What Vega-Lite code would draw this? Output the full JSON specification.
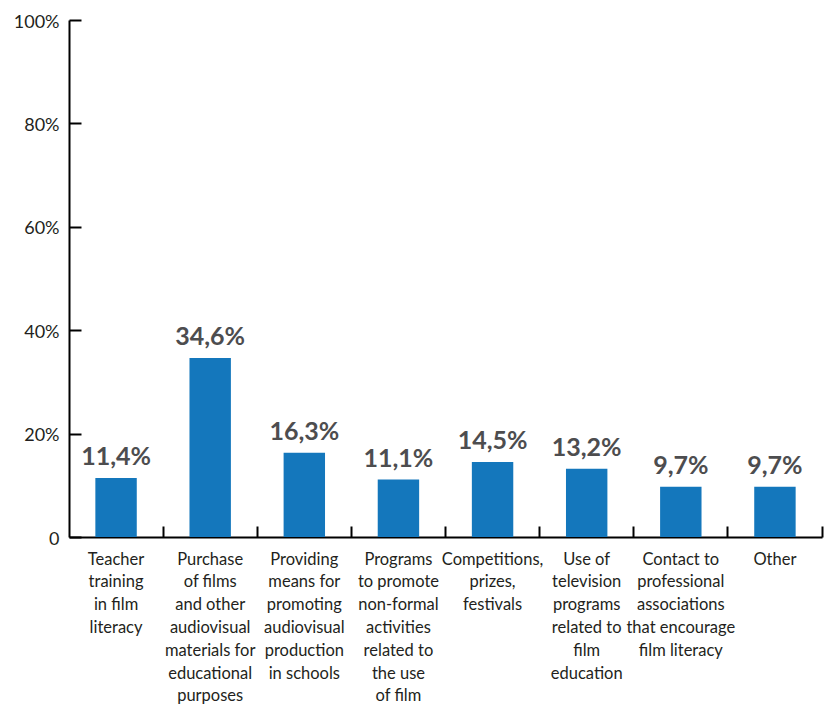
{
  "$schema": "https://vega.github.io/schema/vega-lite/v6.json",
  "width": 753,
  "height": 517,
  "autosize": {"type": "none"},
  "padding": {"left": 69, "top": 20, "right": 11, "bottom": 175},
  "background": "white",
  "config": {"view": {"stroke": null}, "font": "Lato"},
  "data": {
    "values": [
      {"category": "Teacher|training|in film|literacy", "value": 11.4, "label": "11,4%"},
      {"category": "Purchase|of films|and other|audiovisual|materials for|educational|purposes", "value": 34.6, "label": "34,6%"},
      {"category": "Providing|means for|promoting|audiovisual|production|in schools", "value": 16.3, "label": "16,3%"},
      {"category": "Programs|to promote|non-formal|activities|related to|the use|of film", "value": 11.1, "label": "11,1%"},
      {"category": "Competitions,|prizes,|festivals", "value": 14.5, "label": "14,5%"},
      {"category": "Use of|television|programs|related to|film|education", "value": 13.2, "label": "13,2%"},
      {"category": "Contact to|professional|associations|that encourage|film literacy", "value": 9.7, "label": "9,7%"},
      {"category": "Other", "value": 9.7, "label": "9,7%"}
    ]
  },
  "encoding": {
    "x": {
      "field": "category",
      "type": "nominal",
      "sort": null,
      "scale": {"paddingInner": 0, "paddingOuter": 0},
      "axis": {
        "title": null,
        "labelAngle": 0,
        "labelExpr": "split(datum.label, '|')",
        "labelFont": "Lato",
        "labelFontSize": 16.5,
        "labelColor": "#231f20",
        "labelLineHeight": 22.8,
        "labelBaseline": "top",
        "labelLimit": 200,
        "labelOverlap": false,
        "labelPadding": 25,
        "bandPosition": 1,
        "tickSize": -11,
        "tickWidth": 2,
        "tickColor": "#000000",
        "domainColor": "#000000",
        "domainWidth": 2,
        "grid": false
      }
    },
    "y": {
      "field": "value",
      "type": "quantitative",
      "scale": {"domain": [0, 100], "nice": false},
      "axis": {
        "title": null,
        "values": [0, 20, 40, 60, 80, 100],
        "labelExpr": "datum.value == 0 ? '0' : datum.value + '%'",
        "labelFont": "Lato",
        "labelFontSize": 18,
        "labelColor": "#231f20",
        "labelPadding": 22,
        "labelOffset": 2,
        "tickSize": -12,
        "tickWidth": 2,
        "tickColor": "#000000",
        "domainColor": "#000000",
        "domainWidth": 2,
        "grid": false
      }
    }
  },
  "layer": [
    {
      "mark": {"type": "bar", "width": {"band": 0.44}, "color": "#1477bc"}
    },
    {
      "mark": {"type": "text", "baseline": "alphabetic", "dy": -13, "font": "Lato", "fontWeight": "bold", "fontSize": 25, "color": "#4d4d4f"},
      "encoding": {"text": {"field": "label"}}
    }
  ]
}
